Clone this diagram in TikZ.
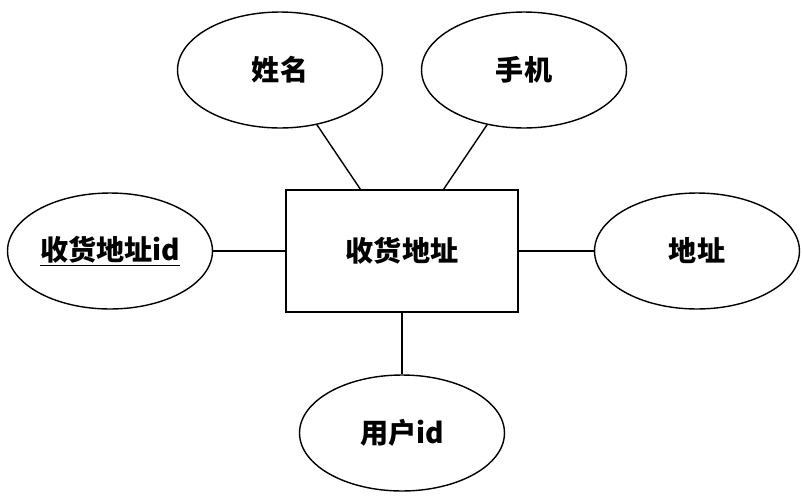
\documentclass[tikz,border=0pt]{standalone}
\usepackage{fontspec}
\newfontfamily\cjk{Noto Sans CJK SC}
\usetikzlibrary{shapes.geometric}
\begin{document}
\begin{tikzpicture}[x=0.02cm,y=-0.02cm,
    entity/.style={rectangle, draw, thick, minimum width=4.64cm, minimum height=2.44cm,
        font=\cjk\bfseries\fontsize{16}{16}\selectfont},
    attribute/.style={ellipse, draw, thick, inner sep=0pt, minimum width=4.1cm,
        minimum height=2.32cm, font=\cjk\bfseries\fontsize{16}{16}\selectfont},
    link/.style={draw, thick}
]
\useasboundingbox (0,0) rectangle (802,501);
\node (Address) [entity] at (402,251) {收货地址};
\node (Name) [attribute] at (280,70) {姓名};
\node (Phone) [attribute] at (524,70) {手机};
\node (AddrId) [attribute] at (110,251) {\underline{收货地址id}};
\node (Detail) [attribute] at (697,251) {地址};
\node (UserId) [attribute] at (402,433) {用户id};
\draw [link] (Name) -- (Address);
\draw [link] (Phone) -- (Address);
\draw [link] (AddrId) -- (Address);
\draw [link] (Detail) -- (Address);
\draw [link] (UserId) -- (Address);
\end{tikzpicture}
\end{document}
